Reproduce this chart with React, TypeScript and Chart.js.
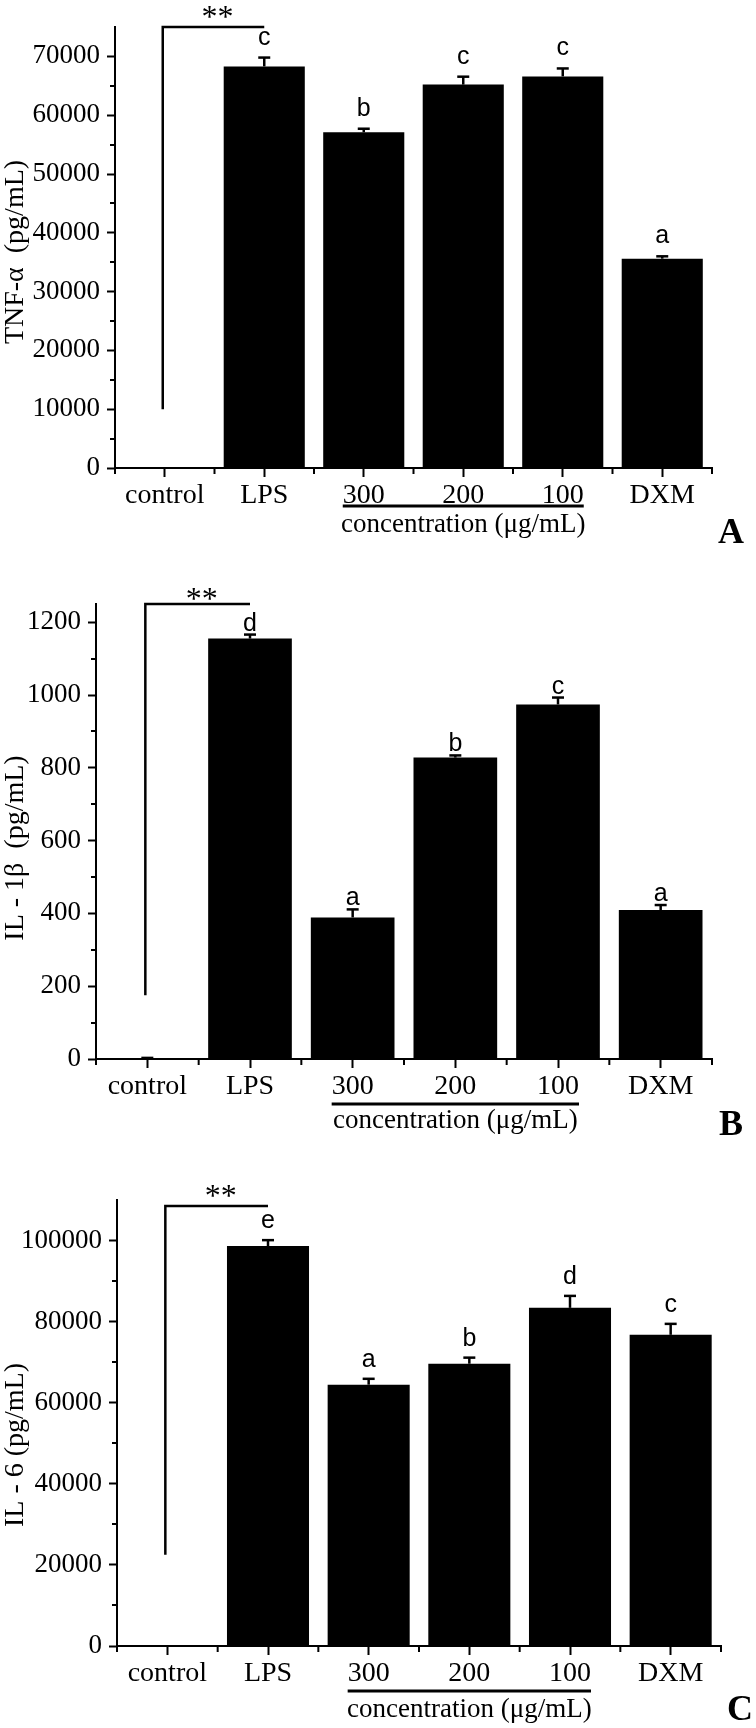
import React, { useEffect, useRef } from 'react';
import { Chart, registerables } from 'chart.js';

Chart.register(...registerables);

// ---------- data ----------
const categories = ['control', 'LPS', '300', '200', '100', 'DXM'];

const tnfValues = [0, 68300, 57100, 65200, 66600, 35600];
const tnfErrors = [0, 1500, 600, 1350, 1350, 400];
const tnfLetters = ['', 'c', 'b', 'c', 'c', 'a'];
const tnfTicks = [0, 10000, 20000, 30000, 40000, 50000, 60000, 70000];

const il1bValues = [0, 1155, 389, 828, 974, 409];
const il1bErrors = [3, 11, 22, 6, 19, 14];
const il1bLetters = ['', 'd', 'a', 'b', 'c', 'a'];
const il1bTicks = [0, 200, 400, 600, 800, 1000, 1200];

const il6Values = [0, 98650, 64450, 69620, 83400, 76750];
const il6Errors = [0, 1450, 1450, 1500, 2950, 2700];
const il6Letters = ['', 'e', 'a', 'b', 'd', 'c'];
const il6Ticks = [0, 20000, 40000, 60000, 80000, 100000];

const tnfAxis = { max: 75000, step: 10000, ticks: tnfTicks };
const il1bAxis = { max: 1250, step: 200, ticks: il1bTicks };
const il6Axis = { max: 110000, step: 20000, ticks: il6Ticks };

const tnfBracket = { low: 10000, top: 75000 };
const il1bBracket = { low: 175, top: 1250 };
const il6Bracket = { low: 22500, top: 108500 };

const groupLabel = 'concentration (\u03bcg/mL)';
const sigMark = '**';

// ---------- styling / layout ----------
const SERIF = '"Liberation Serif", "Times New Roman", Times, serif';
const SANS = '"Liberation Sans", Arial, Helvetica, sans-serif';
const W = 756;

type Panel = {
  values: number[];
  errors: number[];
  letters: string[];
  axis: { max: number; step: number; ticks: number[] };
  bracket: { low: number; top: number };
  title: string;
  panelLabel: string;
  canvasTop: number;
  canvasHeight: number;
  axisLeft: number;
  chartTop: number; // page coords
  zeroY: number; // page coords
  axisRight: number;
  letterGap: number;
  starDy: number;
  underlineDy: number;
  concDy: number;
  titleY: number; // page coords
  labelX: number;
  labelDy: number;
};

const panels: Panel[] = [
  {
    values: tnfValues, errors: tnfErrors, letters: tnfLetters, axis: tnfAxis, bracket: tnfBracket,
    title: 'TNF-\u03b1  (pg/mL)', panelLabel: 'A',
    canvasTop: 0, canvasHeight: 560, axisLeft: 115, chartTop: 27, zeroY: 468, axisRight: 712,
    letterGap: 13, starDy: 0, underlineDy: 38, concDy: 57, titleY: 252, labelX: 731, labelDy: 66,
  },
  {
    values: il1bValues, errors: il1bErrors, letters: il1bLetters, axis: il1bAxis, bracket: il1bBracket,
    title: 'IL - 1\u03b2  (pg/mL)', panelLabel: 'B',
    canvasTop: 560, canvasHeight: 590, axisLeft: 96, chartTop: 604, zeroY: 1059, axisRight: 712,
    letterGap: 4, starDy: 5, underlineDy: 45, concDy: 62, titleY: 848, labelX: 731, labelDy: 67,
  },
  {
    values: il6Values, errors: il6Errors, letters: il6Letters, axis: il6Axis, bracket: il6Bracket,
    title: 'IL - 6 (pg/mL)', panelLabel: 'C',
    canvasTop: 1150, canvasHeight: 578, axisLeft: 117, chartTop: 1200, zeroY: 1646, axisRight: 721,
    letterGap: 12, starDy: 0, underlineDy: 45, concDy: 64, titleY: 1445, labelX: 740, labelDy: 65,
  },
];

const annotPlugin = {
  id: 'annot',
  afterDraw(chart: any, _args: any, opts: any) {
    const p: Panel = opts.panel;
    if (!p) return;
    const ctx = chart.ctx as CanvasRenderingContext2D;
    const xs = chart.scales.x;
    const ys = chart.scales.y;
    const area = chart.chartArea;
    const n = categories.length;
    ctx.save();
    ctx.strokeStyle = '#000';
    ctx.fillStyle = '#000';
    ctx.lineCap = 'butt';

    // minor y ticks
    ctx.lineWidth = 2;
    for (let v = p.axis.step / 2; v < p.axis.max; v += p.axis.step) {
      const py = Math.round(ys.getPixelForValue(v));
      ctx.beginPath();
      ctx.moveTo(area.left - 5, py);
      ctx.lineTo(area.left, py);
      ctx.stroke();
    }
    // minor x ticks at category boundaries
    for (let i = 0; i <= n; i++) {
      let px: number;
      if (i === 0) px = area.left;
      else if (i === n) px = area.right;
      else px = (xs.getPixelForValue(i - 1) + xs.getPixelForValue(i)) / 2;
      ctx.beginPath();
      ctx.moveTo(px, area.bottom);
      ctx.lineTo(px, area.bottom + 6);
      ctx.stroke();
    }

    // error bars + letters
    for (let i = 0; i < n; i++) {
      const v = p.values[i];
      const e = p.errors[i];
      const cx = xs.getPixelForValue(i);
      const base = ys.getPixelForValue(v);
      const top = ys.getPixelForValue(v + e);
      if (e > 0) {
        ctx.lineWidth = 2.5;
        ctx.beginPath();
        ctx.moveTo(cx, base);
        ctx.lineTo(cx, top);
        ctx.stroke();
        ctx.beginPath();
        ctx.moveTo(cx - 6, top);
        ctx.lineTo(cx + 6, top);
        ctx.stroke();
      }
      const letter = p.letters[i];
      if (letter) {
        ctx.font = `25px ${SANS}`;
        ctx.textAlign = 'center';
        ctx.textBaseline = 'alphabetic';
        ctx.fillText(letter, cx, top - p.letterGap);
      }
    }

    // significance bracket
    const x0 = xs.getPixelForValue(0) - 2;
    const x1 = xs.getPixelForValue(1);
    const yTop = ys.getPixelForValue(p.bracket.top);
    const yLow = ys.getPixelForValue(p.bracket.low);
    ctx.lineWidth = 2.5;
    ctx.beginPath();
    ctx.moveTo(x0, yLow);
    ctx.lineTo(x0, yTop);
    ctx.lineTo(x1, yTop);
    ctx.stroke();
    ctx.font = `32px ${SERIF}`;
    ctx.textAlign = 'center';
    ctx.textBaseline = 'alphabetic';
    ctx.fillText(sigMark, (x0 + x1) / 2 + 4, yTop + p.starDy);

    // group underline + label
    ctx.font = `28px ${SERIF}`;
    const wl = ctx.measureText(categories[2]).width;
    const wr = ctx.measureText(categories[4]).width;
    const ul = xs.getPixelForValue(2) - wl / 2;
    const ur = xs.getPixelForValue(4) + wr / 2;
    const uy = area.bottom + p.underlineDy;
    ctx.lineWidth = 3;
    ctx.beginPath();
    ctx.moveTo(ul, uy);
    ctx.lineTo(ur, uy);
    ctx.stroke();
    ctx.font = `27px ${SERIF}`;
    ctx.textAlign = 'center';
    ctx.textBaseline = 'middle';
    ctx.fillText(groupLabel, (ul + ur) / 2, area.bottom + p.concDy);

    // panel label
    ctx.font = `bold 36px ${SERIF}`;
    ctx.textAlign = 'center';
    ctx.textBaseline = 'middle';
    ctx.fillText(p.panelLabel, p.labelX, area.bottom + p.labelDy);

    // y axis title
    ctx.font = `28px ${SERIF}`;
    ctx.translate(16, p.titleY - p.canvasTop);
    ctx.rotate(-Math.PI / 2);
    ctx.textAlign = 'center';
    ctx.textBaseline = 'middle';
    ctx.fillText(p.title, 0, 0);

    ctx.restore();
  },
};

function PanelChart({ p }: { p: Panel }) {
  const ref = useRef<HTMLCanvasElement | null>(null);
  useEffect(() => {
    if (!ref.current) return;
    const chartTopLocal = p.chartTop - p.canvasTop;
    const zeroLocal = p.zeroY - p.canvasTop;
    const tickValues = p.axis.ticks;
    const chart = new Chart(ref.current, {
      type: 'bar',
      data: {
        labels: categories,
        datasets: [
          {
            data: p.values,
            backgroundColor: '#000',
            borderWidth: 0,
            barPercentage: 0.815,
            categoryPercentage: 1,
          },
        ],
      },
      options: {
        responsive: false,
        animation: false,
        devicePixelRatio: 1,
        layout: { padding: { left: 0, top: chartTopLocal, right: W - p.axisRight, bottom: 0 } },
        plugins: {
          legend: { display: false },
          tooltip: { enabled: false },
          annot: { panel: p },
        } as any,
        scales: {
          x: {
            type: 'category',
            offset: true,
            grid: {
              display: true,
              drawOnChartArea: false,
              drawTicks: true,
              offset: false,
              tickLength: 9,
              tickWidth: 2,
              tickColor: '#000',
              color: '#000',
            },
            border: { display: true, color: '#000', width: 2 },
            ticks: {
              color: '#000',
              font: { family: SERIF, size: 28 },
              padding: 2,
              maxRotation: 0,
              autoSkip: false,
            },
            afterFit: (s: any) => {
              s.height = p.canvasHeight - zeroLocal;
            },
          },
          y: {
            type: 'linear',
            min: 0,
            max: p.axis.max,
            grid: {
              display: true,
              drawOnChartArea: false,
              drawTicks: true,
              tickLength: 8,
              tickWidth: 2,
              tickColor: '#000',
              color: '#000',
            },
            border: { display: true, color: '#000', width: 2 },
            ticks: {
              color: '#000',
              font: { family: SERIF, size: 27 },
              padding: 7,
              autoSkip: false,
              callback: (v: any) => String(v),
            },
            afterBuildTicks: (s: any) => {
              s.ticks = tickValues.map((v) => ({ value: v }));
            },
            afterFit: (s: any) => {
              s.width = p.axisLeft;
            },
          },
        },
      } as any,
      plugins: [annotPlugin as any],
    });
    return () => chart.destroy();
  }, [p]);
  return (
    <canvas
      ref={ref}
      width={W}
      height={p.canvasHeight}
      style={{ position: 'absolute', left: 0, top: p.canvasTop, width: W, height: p.canvasHeight }}
    />
  );
}

export default function App() {
  return (
    <div
      style={{
        position: 'absolute',
        left: 0,
        top: 0,
        width: W,
        height: 1728,
        background: '#fff',
        overflow: 'hidden',
      }}
    >
      {panels.map((p) => (
        <PanelChart key={p.panelLabel} p={p} />
      ))}
    </div>
  );
}
